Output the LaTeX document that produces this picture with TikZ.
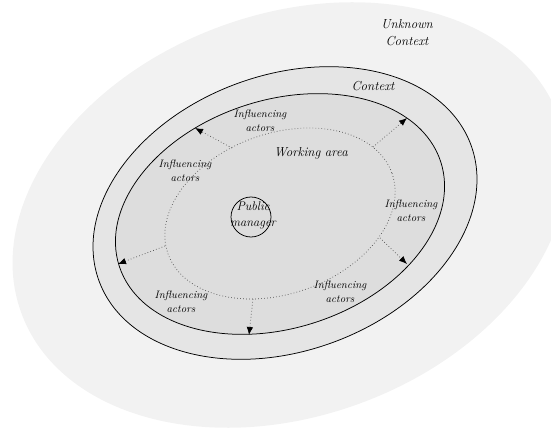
\documentclass[tikz,border=0pt]{standalone}
\usetikzlibrary{arrows.meta}
\definecolor{outerg}{gray}{0.95}
\definecolor{ctxg}{gray}{0.90}
\definecolor{workg}{gray}{0.865}
\definecolor{dotg}{gray}{0.3}
\begin{document}
\begin{tikzpicture}[x=1pt,y=-1pt,
  lbl/.style={font=\itshape\fontsize{10.8}{13.5}\selectfont, align=center, inner sep=0pt},
  biglbl/.style={font=\itshape\fontsize{13}{16}\selectfont, align=center, inner sep=0pt},
  ctxlbl/.style={font=\itshape\fontsize{13}{17}\selectfont, align=center, inner sep=0pt},
  ring/.style={draw=black, line width=0.75pt},
  dotline/.style={draw=dotg, line width=0.7pt, dash pattern=on 0.7pt off 2.3pt},
  infl/.style={dotline, -{Latex[length=8pt,width=6.5pt,color=black]}}]
\useasboundingbox (0,0) rectangle (551,430);
\begin{scope}
  \clip (0,0) rectangle (551,430);
  \fill[outerg, rotate around={20:(290,215)}] (290,215) ellipse [x radius=286pt, y radius=201pt];
\end{scope}
\fill[ctxg, rotate around={20:(285,213)}] (285,213) ellipse [x radius=198pt, y radius=138pt];
\draw[ring, rotate around={20:(285,213)}] (285,213) ellipse [x radius=198pt, y radius=138pt];
\fill[workg, rotate around={18:(280,214)}] (280,214) ellipse [x radius=169pt, y radius=114pt];
\draw[ring, rotate around={18:(280,214)}] (280,214) ellipse [x radius=169pt, y radius=114pt];
\draw[dotline, rotate around={20:(280,213.5)}] (280,213.5) ellipse [x radius=119pt, y radius=80pt];

% public manager
\node[circle, draw=black, line width=0.75pt, minimum size=40pt, inner sep=0pt] (pm) at (251,217) {};
\node[biglbl, font=\itshape\fontsize{12.5}{16}\selectfont] (pmt) at (253,215) {Public\\manager};

% labels
\node[ctxlbl] (unk) at (407,33) {Unknown\\Context};
\node[ctxlbl] (ctx) at (373,86) {Context};
\node[biglbl] (wa) at (311,153) {Working area};
\node[lbl] (ia1) at (260,121) {Influencing\\actors};
\node[lbl] (ia2) at (185,171) {Influencing\\actors};
\node[lbl] (ia3) at (411,211) {Influencing\\actors};
\node[lbl] (ia4) at (181,302) {Influencing\\actors};
\node[lbl] (ia5) at (340,292) {Influencing\\actors};

% arrow endpoints
\coordinate (s1) at (232,148); \coordinate (e1) at (195,128);
\coordinate (s2) at (373,147); \coordinate (e2) at (407,118);
\coordinate (s3) at (165,246); \coordinate (e3) at (118,264);
\coordinate (s4) at (253,299); \coordinate (e4) at (249,335);
\coordinate (s5) at (380,238); \coordinate (e5) at (407,264);
\draw[infl] (s1) -- (e1);
\draw[infl] (s2) -- (e2);
\draw[infl] (s3) -- (e3);
\draw[infl] (s4) -- (e4);
\draw[infl] (s5) -- (e5);
\end{tikzpicture}
\end{document}
